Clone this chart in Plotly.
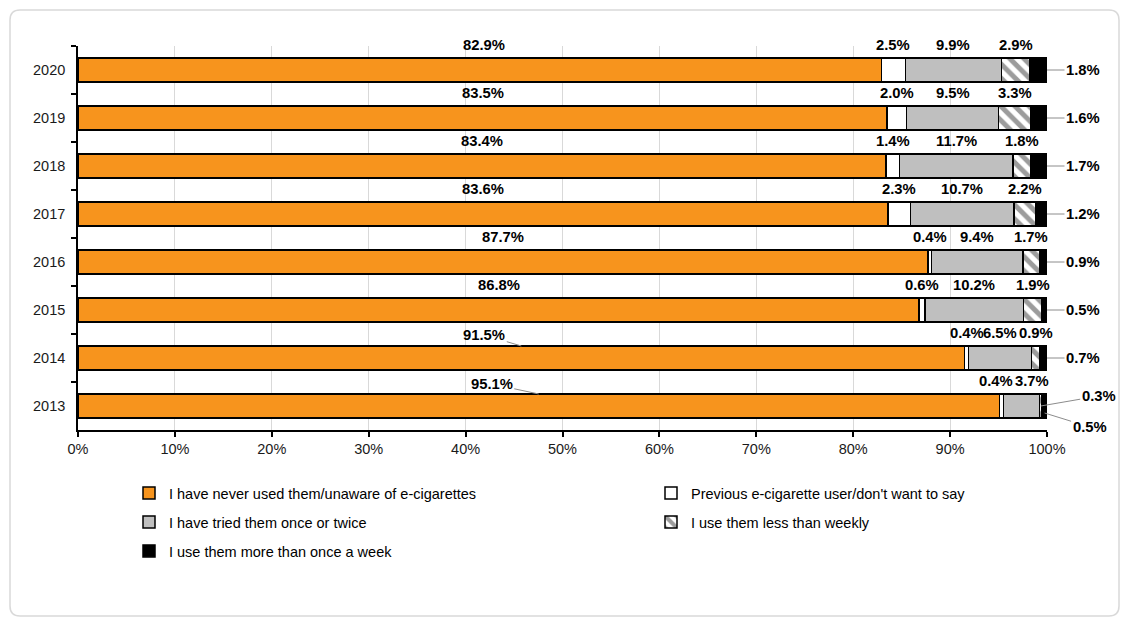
import plotly.graph_objects as go

# ---------------- data ----------------
years = ["2020", "2019", "2018", "2017", "2016", "2015", "2014", "2013"]
never_used = [82.9, 83.5, 83.4, 83.6, 87.7, 86.8, 91.5, 95.1]
previous_user = [2.5, 2.0, 1.4, 2.3, 0.4, 0.6, 0.4, 0.4]
tried_once = [9.9, 9.5, 11.7, 10.7, 9.4, 10.2, 6.5, 3.7]
less_weekly = [2.9, 3.3, 1.8, 2.2, 1.7, 1.9, 0.9, 0.3]
more_weekly = [1.8, 1.6, 1.7, 1.2, 0.9, 0.5, 0.7, 0.5]

series_names = [
    "I have never used them/unaware of e-cigarettes",
    "Previous e-cigarette user/don't want to say",
    "I have tried them once or twice",
    "I use them less than weekly",
    "I use them more than once a week",
]
series_values = [never_used, previous_user, tried_once, less_weekly, more_weekly]
x_ticks = list(range(0, 101, 10))

# ---------------- styles ----------------
FONT = "Liberation Sans, Arial, sans-serif"
colors = ["#F7941D", "#FFFFFF", "#BFBFBF", "#FFFFFF", "#000000"]
patterns = [None, None, None,
            dict(shape="\\", fgcolor="#3a3a3a", bgcolor="#FFFFFF", size=10, solidity=0.5),
            None]
legend_ids = ["legend", "legend2", "legend3", "legend4", "legend5"]

# plot-area geometry (pixels)
W, H = 1122, 619
L, R, T, B = 78, 75, 46, 189
PW, PH = W - L - R, H - T - B


def px2paper_x(px):
    return (px - L) / PW


def px2paper_y(py):
    return (H - B - py) / PH


fig = go.Figure()
for s, (name, vals) in enumerate(zip(series_names, series_values)):
    marker = dict(color=colors[s], line=dict(color="#000000", width=1.5))
    if patterns[s]:
        marker["pattern"] = patterns[s]
    fig.add_trace(go.Bar(
        y=years, x=vals, name=name, orientation="h",
        marker=marker, legend=legend_ids[s],
    ))

# ---------------- data labels ----------------
# (annotation y uses the category index, since the category names are numeric strings)
label_font = dict(family=FONT, size=14.8, color="#000000", weight="bold")
annotations = []
nudges = {("2013", 1): -5, ("2013", 2): 11, ("2020", 0): 4}
arrow = dict(showarrow=True, arrowhead=0, arrowwidth=1, arrowcolor="#8c8c8c", standoff=0)

for i, yr in enumerate(years):
    cum = 0.0
    for s, vals in enumerate(series_values):
        v = vals[i]
        mid = cum + v / 2
        cum += v
        txt = f"{v:.1f}%"
        base = dict(x=mid, y=i, xref="x", yref="y", text=txt, font=label_font)
        if s == 0 and yr in ("2014", "2013"):
            ax, ay = (-37, -11) if yr == "2014" else (-47, -10)
            annotations.append({**base, **arrow, "ax": ax, "ay": ay, "yshift": 12})
        elif yr == "2013" and s == 3:
            annotations.append({**base, **arrow, "ax": 58, "ay": -10})
        elif yr == "2013" and s == 4:
            annotations.append({**base, **arrow, "ax": 45, "ay": 14, "yshift": -7})
        elif s == 4:
            annotations.append({**base, **arrow, "x": 100, "ax": 36, "ay": 0})
        else:
            annotations.append({**base, "showarrow": False, "yshift": 25,
                                "xshift": nudges.get((yr, s), 0)})

# ---------------- outer rounded border ----------------
x0, x1 = px2paper_x(10), px2paper_x(1119)
y1, y0 = px2paper_y(10), px2paper_y(616)
rx, ry = 10 / PW, 10 / PH
border_path = (
    f"M {x0+rx},{y1} L {x1-rx},{y1} Q {x1},{y1} {x1},{y1-ry} "
    f"L {x1},{y0+ry} Q {x1},{y0} {x1-rx},{y0} L {x0+rx},{y0} "
    f"Q {x0},{y0} {x0},{y0+ry} L {x0},{y1-ry} Q {x0},{y1} {x0+rx},{y1} Z"
)

# ---------------- legends ----------------
legend_pos = [(129, 493), (651, 493), (129, 522), (651, 522), (129, 551)]
legend_layout = {}
for lid, (lx, ly) in zip(legend_ids, legend_pos):
    legend_layout[lid] = dict(
        x=px2paper_x(lx), y=px2paper_y(ly), xanchor="left", yanchor="middle",
        orientation="h", bgcolor="rgba(0,0,0,0)", borderwidth=0,
        font=dict(family=FONT, size=14.5, color="#000000"),
    )

fig.update_layout(
    width=W, height=H,
    margin=dict(l=L, r=R, t=T, b=B, autoexpand=False),
    paper_bgcolor="#FFFFFF", plot_bgcolor="#FFFFFF",
    barmode="stack", bargap=0.5,
    font=dict(family=FONT, size=14.5, color="#000000"),
    showlegend=True,
    annotations=annotations,
    shapes=[dict(type="path", path=border_path, xref="paper", yref="paper",
                 line=dict(color="#d9d9d9", width=1.5), layer="below")],
    xaxis=dict(
        range=[0, 100], tickvals=x_ticks, ticktext=[f"{t}%" for t in x_ticks],
        showgrid=True, gridcolor="#d9d9d9", gridwidth=1,
        showline=True, linecolor="#000000", linewidth=1.5,
        ticks="outside", ticklen=5, tickcolor="#000000", tickwidth=1.5,
        zeroline=False, tickfont=dict(size=14.5, color="#1a1a1a"),
    ),
    yaxis=dict(
        type="category",
        categoryorder="array", categoryarray=years,
        range=[len(years) - 0.5, -0.5],
        showline=True, linecolor="#000000", linewidth=1.5,
        ticks="outside", ticklen=5, tickcolor="#000000", tickwidth=1.5,
        tickson="boundaries", showgrid=False, ticksuffix="  ",
        tickfont=dict(size=14.5, color="#1a1a1a"),
    ),
    **legend_layout,
)

fig.write_html("out.html")
